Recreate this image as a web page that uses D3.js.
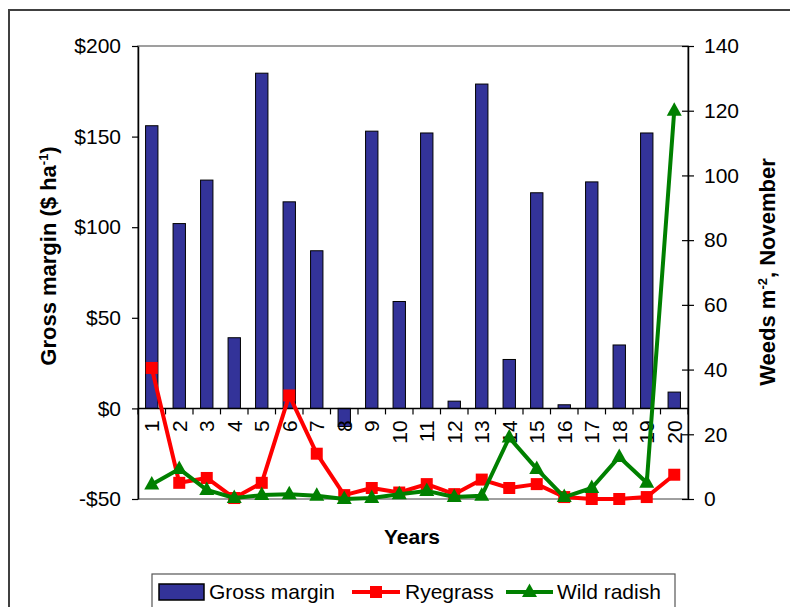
<!DOCTYPE html>
<html>
<head>
<meta charset="utf-8">
<script src="https://cdn.jsdelivr.net/npm/d3@7"></script>
<style>
  html, body { margin: 0; padding: 0; background: #fff; }
  svg { display: block; font-family: "Liberation Sans", Arial, sans-serif; }
</style>
</head>
<body>
<svg id="chart" width="790" height="607"></svg>
<script>
// Twenty-year simulation: gross margin (bars, left axis) and weed density (lines, right axis)
const years = ["1","2","3","4","5","6","7","8","9","10","11","12","13","14","15","16","17","18","19","20"];
const grossMargin = [156, 102, 126, 39, 185, 114, 87, -10, 153, 59, 152, 4, 179, 27, 119, 2, 125, 35, 152, 9];
const ryegrass = [40.5, 5, 6.5, 0.3, 5, 32, 14, 1.2, 3.4, 2, 4.6, 1.5, 6, 3.4, 4.6, 0.6, 0, 0, 0.6, 7.5];
const wildRadish = [4.5, 9.3, 2.8, 0.3, 1.2, 1.5, 1, 0, 0.3, 1.5, 2.5, 0.6, 1, 19, 9.3, 0.6, 3.4, 13, 5, 120];
const marginTicks = [-50, 0, 50, 100, 150, 200];
const weedTicks = [0, 20, 40, 60, 80, 100, 120, 140];

const svg = d3.select("#chart");
const plotLeft = 138, plotRight = 688, plotTop = 46, plotBottom = 499;

const x = d3.scaleBand().domain(years).range([plotLeft, plotRight]).paddingInner(0.55).paddingOuter(0.275);
const xb = d3.scaleBand().domain(years).range([plotLeft, plotRight]);
const yL = d3.scaleLinear().domain([-50, 200]).range([plotBottom, plotTop]);
const yR = d3.scaleLinear().domain([0, 140]).range([plotBottom, plotTop]);

// outer chart frame
svg.append("rect").attr("x", 9).attr("y", 10).attr("width", 900).attr("height", 700)
  .attr("fill", "none").attr("stroke", "#404040").attr("stroke-width", 2);

// plot area border
svg.append("rect").attr("x", plotLeft).attr("y", plotTop)
  .attr("width", plotRight - plotLeft).attr("height", plotBottom - plotTop)
  .attr("fill", "none").attr("stroke", "#808080").attr("stroke-width", 1.5);

// bars
svg.append("g").selectAll("rect").data(grossMargin).join("rect")
  .attr("x", (d, i) => x(years[i]))
  .attr("width", x.bandwidth())
  .attr("y", d => yL(Math.max(0, d)))
  .attr("height", d => Math.abs(yL(d) - yL(0)))
  .attr("fill", "#333399").attr("stroke", "#000").attr("stroke-width", 1);

// left axis
const axL = svg.append("g").attr("transform", `translate(${plotLeft},0)`)
  .call(d3.axisLeft(yL).tickValues(marginTicks).tickSize(6).tickSizeOuter(0)
    .tickFormat(d => (d < 0 ? "-$" : "$") + Math.abs(d)));
// right axis
const axR = svg.append("g").attr("transform", `translate(${plotRight},0)`)
  .call(d3.axisRight(yR).tickValues(weedTicks).tickSize(6).tickSizeOuter(0));
axR.selectAll(".tick line").attr("x1", -6);
[axL, axR].forEach(a => {
  a.select(".domain").attr("stroke", "#000").attr("stroke-width", 1.5);
  a.selectAll(".tick line").attr("stroke", "#000").attr("stroke-width", 1.2);
  a.selectAll(".tick text").attr("font-size", 21).attr("fill", "#000")
    .attr("font-family", "'Liberation Sans', Arial, sans-serif");
});
axL.selectAll(".tick text").attr("x", -17);
axR.selectAll(".tick text").attr("x", 16);

// category axis at $0
const axX = svg.append("g").attr("transform", `translate(0,${yL(0)})`);
axX.append("line").attr("x1", plotLeft).attr("x2", plotRight).attr("stroke", "#000").attr("stroke-width", 1.5);
axX.selectAll("line.tk").data(d3.range(years.length + 1)).join("line").attr("class", "tk")
  .attr("x1", i => plotLeft + i * xb.step()).attr("x2", i => plotLeft + i * xb.step())
  .attr("y1", 0).attr("y2", 6).attr("stroke", "#000").attr("stroke-width", 1.2);
axX.selectAll("text").data(years).join("text")
  .attr("transform", d => `translate(${xb(d) + xb.bandwidth() / 2},12) rotate(-90)`)
  .attr("text-anchor", "end").attr("dy", "0.35em")
  .attr("font-size", 21).attr("fill", "#000").text(d => d);

// weed lines
function series(values, color, marker) {
  const pts = values.map((v, i) => [xb(years[i]) + xb.bandwidth() / 2, yR(v)]);
  svg.append("path").attr("d", d3.line()(pts)).attr("fill", "none")
    .attr("stroke", color).attr("stroke-width", 4).attr("stroke-linejoin", "round");
  const g = svg.append("g");
  pts.forEach(p => marker(g, p[0], p[1], color));
}
const square = (g, cx, cy, c) => g.append("rect").attr("x", cx - 6).attr("y", cy - 6)
  .attr("width", 12).attr("height", 12).attr("fill", c);
const triangle = (g, cx, cy, c) => g.append("path")
  .attr("d", `M${cx},${cy - 8.5}L${cx + 7.5},${cy + 5}L${cx - 7.5},${cy + 5}Z`).attr("fill", c);
series(ryegrass, "#ff0000", square);
series(wildRadish, "#008000", triangle);

// axis titles
const lt = svg.append("text").attr("transform", "translate(56,256) rotate(-90)")
  .attr("text-anchor", "middle").attr("font-size", 22).attr("font-weight", "bold");
lt.append("tspan").text("Gross margin ($ ha");
lt.append("tspan").attr("dy", -8).attr("font-size", 13).text("-1");
lt.append("tspan").attr("dy", 8).text(")");

const rt = svg.append("text").attr("transform", "translate(775,272) rotate(-90)")
  .attr("text-anchor", "middle").attr("font-size", 22).attr("font-weight", "bold");
rt.append("tspan").text("Weeds m");
rt.append("tspan").attr("dy", -8).attr("font-size", 13).text("-2");
rt.append("tspan").attr("dy", 8).text(", November");

svg.append("text").attr("x", 412).attr("y", 544).attr("text-anchor", "middle")
  .attr("font-size", 21).attr("font-weight", "bold").text("Years");

// legend
const lg = svg.append("g");
lg.append("rect").attr("x", 152).attr("y", 574).attr("width", 523).attr("height", 60)
  .attr("fill", "#fff").attr("stroke", "#555").attr("stroke-width", 1.2);
lg.append("rect").attr("x", 159).attr("y", 584).attr("width", 45).attr("height", 16)
  .attr("fill", "#333399").attr("stroke", "#000").attr("stroke-width", 1.5);
lg.append("text").attr("x", 209).attr("y", 599).attr("font-size", 21).text("Gross margin");
lg.append("line").attr("x1", 352).attr("x2", 400).attr("y1", 592).attr("y2", 592)
  .attr("stroke", "#ff0000").attr("stroke-width", 4);
square(lg, 376, 592, "#ff0000");
lg.append("text").attr("x", 405).attr("y", 599).attr("font-size", 21).text("Ryegrass");
lg.append("line").attr("x1", 506).attr("x2", 553).attr("y1", 592).attr("y2", 592)
  .attr("stroke", "#008000").attr("stroke-width", 4);
triangle(lg, 529.5, 592, "#008000");
lg.append("text").attr("x", 557).attr("y", 599).attr("font-size", 21).text("Wild radish");
</script>
</body>
</html>
